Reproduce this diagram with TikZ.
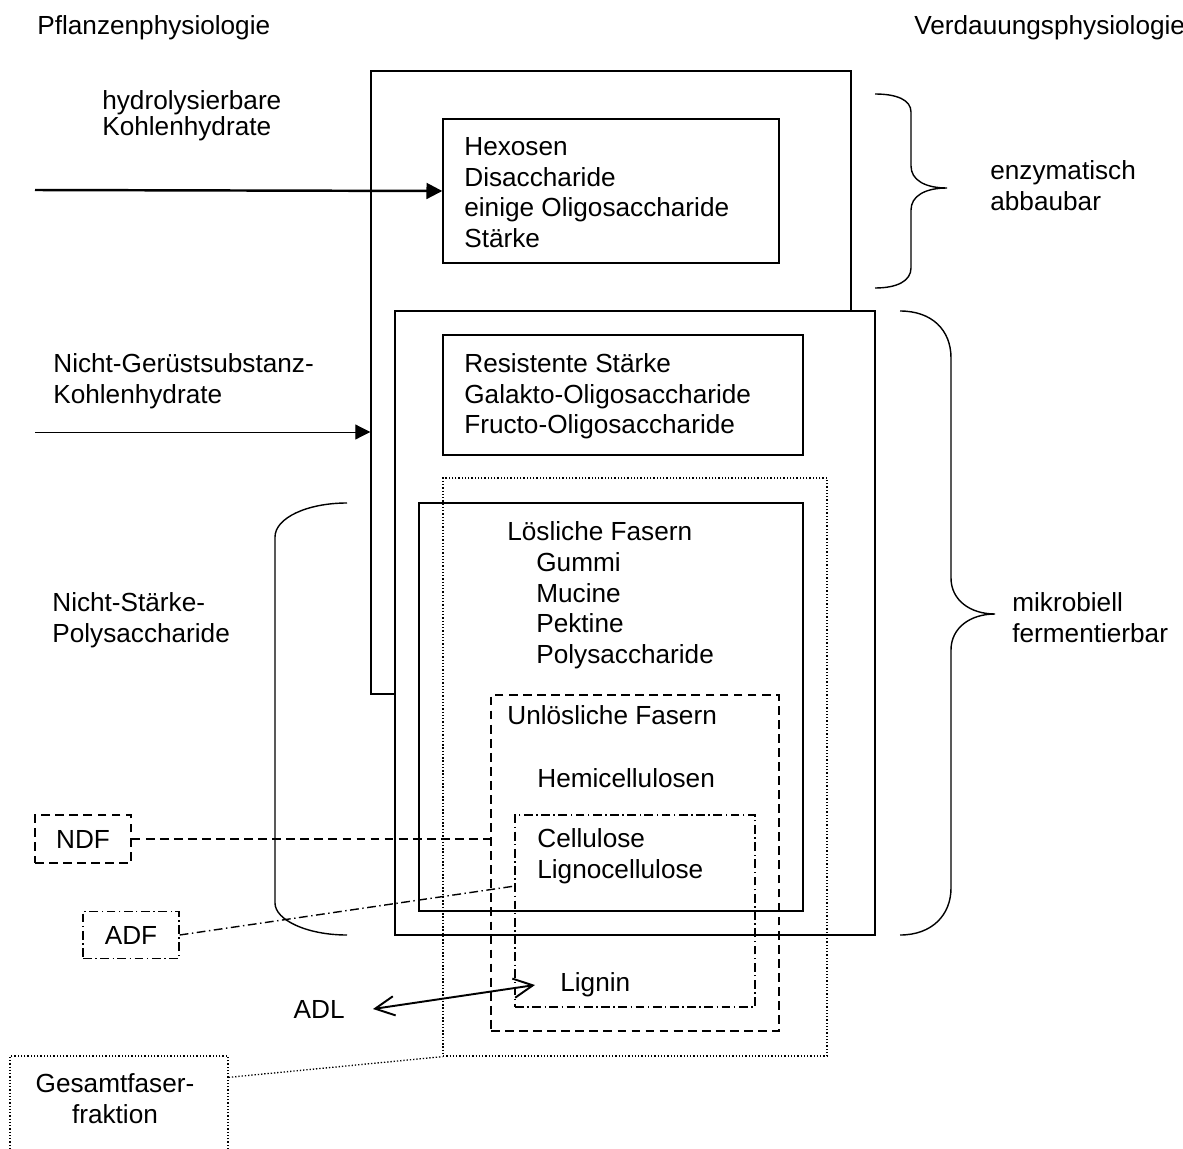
\documentclass[tikz,border=0pt]{standalone}
\usepackage{fontspec}
\setmainfont{Liberation Sans}
\usetikzlibrary{arrows.meta,positioning,fit,calc}

\begin{document}
\begin{tikzpicture}[
  x=0.02cm, y=-0.02cm,
  every node/.style={font=\fontsize{14.9}{17.5}\selectfont, inner sep=0pt},
  txt/.style={anchor=north west, align=left},
  frame/.style={draw, line width=0.8pt},
  dashframe/.style={draw, line width=0.8pt, dash pattern=on 5pt off 3pt},
  dashdotframe/.style={draw, line width=0.8pt, dash pattern=on 5pt off 2pt on 0.8pt off 2pt},
  dotframe/.style={draw, line width=0.75pt, dash pattern=on 0.75pt off 1.1pt},
  feedarrow/.style={-{Triangle[length=9pt,width=9pt]}, line width=1.4pt},
  thinfeed/.style={-{Triangle[length=8.5pt,width=8.5pt]}, line width=0.55pt},
  lignarrow/.style={{Straight Barb[length=11pt,width=11pt]}-{Straight Barb[length=11pt,width=11pt]}, line width=1.1pt},
  brace/.style={line width=0.8pt}
]
\useasboundingbox (0,0) rectangle (1183,1149);

% Frames
\node[frame, fit={(371,71) (851,694)}] (boxA) {};
\node[frame, fill=white, fit={(395,311) (875,935)}] (boxB) {};
\node[frame, fit={(443,119) (779,263)}] (hex) {};
\node[frame, fit={(443,335) (803,455)}] (res) {};
\node[dotframe, fit={(443,478) (827,1056)}] (tot) {};
\node[frame, fit={(419,503) (803,911)}] (loes) {};
\node[dashframe, fit={(491,695) (779,1031)}] (unl) {};
\node[dashdotframe, fit={(515,815) (755,1007)}] (cel) {};

% Headings and side labels
\node[txt] (plant) at (37,15) {Pflanzenphysiologie};
\node[txt] (digest) at (914,15) {Verdauungsphysiologie};
\node[txt, font=\fontsize{14.9}{14.8}\selectfont] (hydro) at (102,90) {hydrolysierbare\\Kohlenhydrate};
\node[txt] (ngs) at (53,353) {Nicht-Gerüstsubstanz-\\Kohlenhydrate};
\node[txt] (nsp) at (52,592) {Nicht-Stärke-\\Polysaccharide};
\node[txt] (enzym) at (990,160) {enzymatisch\\abbaubar};
\node[txt] (mikro) at (1012,592) {mikrobiell\\fermentierbar};

% Box contents
\node[txt] (hextxt) at (464,137) {Hexosen\\Disaccharide\\einige Oligosaccharide\\Stärke};
\node[txt] (restxt) at (464,353) {Resistente Stärke\\Galakto-Oligosaccharide\\Fructo-Oligosaccharide};
\node[txt] (loestxt) at (507,521) {Lösliche Fasern};
\node[txt] (loeslist) at (536,552) {Gummi\\Mucine\\Pektine\\Polysaccharide};
\node[txt] (unltxt) at (507,705) {Unlösliche Fasern};
\node[txt] (hemi) at (537,768) {Hemicellulosen};
\node[txt, font=\fontsize{14.9}{17.6}\selectfont] (celtxt) at (537,828) {Cellulose\\Lignocellulose};
\node[anchor=west, inner xsep=0.5cm] (lignin) at (535,985) {Lignin};

% Fraction labels
\node[dashframe, minimum width=1.92cm, minimum height=0.96cm] (ndf) at (83,839) {NDF};
\node[dashdotframe, minimum width=1.92cm, minimum height=0.94cm] (adf) at (131,935) {ADF};
\node[anchor=east, inner xsep=0.56cm] (adl) at (373,1009) {ADL};
\node[dotframe, fit={(10,1056) (228,1175)}] (gesbox) {};
\node[align=center, anchor=north] (gestxt) at (115,1073) {Gesamtfaser-\\fraktion};

% Connections
\coordinate (hydstart) at (35,190);
\coordinate (ngstart) at (35,432);
\coordinate (adfend) at (515,886);
\draw[feedarrow] (hydstart) -- (hex.west);
\draw[thinfeed] (ngstart) -- (ngstart -| boxA.west);
\draw[line width=0.8pt, dash pattern=on 5pt off 3pt] (ndf.east) -- (ndf.east -| unl.west);
\draw[line width=0.8pt, dash pattern=on 5pt off 2pt on 0.8pt off 2pt] (adf.east) -- (adfend);
\draw[line width=0.75pt, dash pattern=on 0.75pt off 1.1pt] ($(gesbox.north east)+(0,22)$) -- (tot.south west);
\draw[lignarrow] (adl.east) -- (lignin.west);

% Braces
\draw[brace] (875,94) .. controls (897,94) and (911,100) .. (911,112) -- (911,166)
  .. controls (911,180) and (925,188) .. (947,188)
  .. controls (925,188) and (911,196) .. (911,210) -- (911,268)
  .. controls (911,281) and (897,288) .. (875,288);
\draw[brace] (900,311) .. controls (932,311) and (951,330) .. (951,358) -- (951,578)
  .. controls (951,600) and (970,614) .. (995,614)
  .. controls (970,614) and (951,628) .. (951,650) -- (951,888)
  .. controls (951,915) and (932,935) .. (900,935);
\draw[brace] (347,503) .. controls (307,503) and (275,518) .. (275,537) -- (275,903)
  .. controls (275,920) and (307,935) .. (347,935);

\end{tikzpicture}
\end{document}
